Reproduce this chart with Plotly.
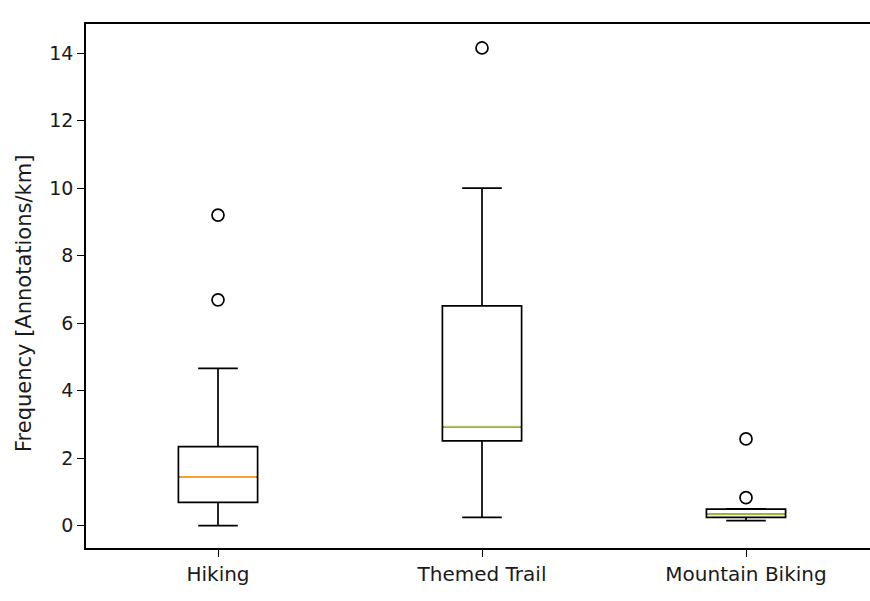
import plotly.graph_objects as go

categories = ["Hiking", "Themed Trail", "Mountain Biking"]
positions = [1, 2, 3]
q1 = [0.69, 2.51, 0.25]
median = [1.44, 2.93, 0.34]
q3 = [2.34, 6.51, 0.49]
lower_whisker = [0.0, 0.25, 0.15]
upper_whisker = [4.66, 10.0, 0.50]
outliers = [[9.2, 6.69], [14.15], [2.57, 0.83]]
median_colors = ["#f5a033", "#bcc46e", "#a8b848"]
y_ticks = [0, 2, 4, 6, 8, 10, 12, 14]

box_width = 0.3
font_family = "DejaVu Sans"

fig = go.Figure()

fig.add_trace(go.Box(
    x=positions, q1=q1, median=median, q3=q3,
    lowerfence=lower_whisker, upperfence=upper_whisker,
    width=box_width, whiskerwidth=0.5, boxpoints=False,
    line=dict(color="black", width=1.7), fillcolor="rgba(255,255,255,0)",
    showlegend=False, hoverinfo="skip",
))

for p, m, c in zip(positions, median, median_colors):
    fig.add_trace(go.Scatter(
        x=[p - box_width / 2 + 0.004, p + box_width / 2 - 0.004], y=[m, m], mode="lines",
        line=dict(color=c, width=2), showlegend=False, hoverinfo="skip",
    ))

ox, oy = [], []
for p, vals in zip(positions, outliers):
    for v in vals:
        ox.append(p)
        oy.append(v)
fig.add_trace(go.Scatter(
    x=ox, y=oy, mode="markers",
    marker=dict(symbol="circle-open", size=12, color="black", line=dict(width=1.7)),
    showlegend=False, hoverinfo="skip",
))

W, H = 870, 601
ml, mr, mt, mb = 86, 0, 24, 53
plot_w = W - ml - mr
px_per_unit = 264.0
x_range = [0.5, 0.5 + plot_w / px_per_unit]

fig.update_layout(
    width=W, height=H,
    margin=dict(l=ml, r=mr, t=mt, b=mb, pad=0),
    paper_bgcolor="white", plot_bgcolor="white",
    font=dict(family=font_family, size=19, color="#1a1a1a"),
    xaxis=dict(
        range=x_range, tickvals=positions, ticktext=categories,
        showgrid=False, zeroline=False, showline=True, linecolor="black",
        linewidth=1.5, mirror=True, ticks="outside", ticklen=7, tickwidth=1.2,
        tickcolor="black", tickfont=dict(family=font_family, size=20),
    ),
    yaxis=dict(
        range=[-0.66, 14.86], tickvals=y_ticks,
        showgrid=False, zeroline=False, showline=True, linecolor="black",
        linewidth=1.5, ticks="outside", ticklen=7, tickwidth=1.2,
        tickcolor="black", tickfont=dict(family=font_family, size=19),
    ),
    annotations=[dict(
        text="Frequency [Annotations/km]", textangle=-90,
        xref="paper", yref="paper",
        x=(24 - ml) / plot_w, y=(H - mb - 304) / (H - mt - mb),
        xanchor="center", yanchor="middle", showarrow=False,
        font=dict(family=font_family, size=21, color="#1a1a1a"),
    )],
)

fig.write_html("out.html")
